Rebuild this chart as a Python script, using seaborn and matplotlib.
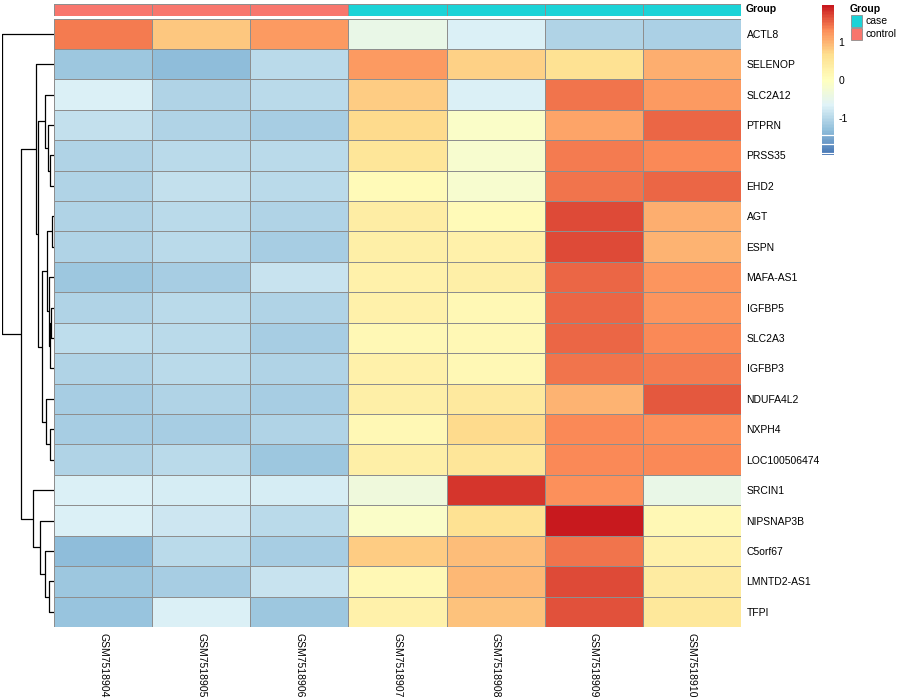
import matplotlib
matplotlib.use('Agg')
import matplotlib.pyplot as plt
import numpy as np
import pandas as pd
import seaborn as sns
from matplotlib.colors import LinearSegmentedColormap, ListedColormap
from matplotlib.patches import Rectangle

# Data (row-scaled expression)
genes = ['ACTL8', 'SELENOP', 'SLC2A12', 'PTPRN', 'PRSS35', 'EHD2', 'AGT', 'ESPN',
         'MAFA-AS1', 'IGFBP5', 'SLC2A3', 'IGFBP3', 'NDUFA4L2', 'NXPH4',
         'LOC100506474', 'SRCIN1', 'NIPSNAP3B', 'C5orf67', 'LMNTD2-AS1', 'TFPI']
samples = ['GSM7518904', 'GSM7518905', 'GSM7518906', 'GSM7518907',
           'GSM7518908', 'GSM7518909', 'GSM7518910']
groups = ['control', 'control', 'control', 'case', 'case', 'case', 'case']

values = [
    [1.42, 0.87, 1.20, -0.45, -0.72, -1.06, -1.10],
    [-1.21, -1.35, -1.00, 1.20, 0.76, 0.60, 1.07],
    [-0.72, -1.06, -0.97, 0.83, -0.72, 1.46, 1.20],
    [-0.91, -1.06, -1.16, 0.70, -0.11, 1.15, 1.53],
    [-1.06, -1.00, -0.97, 0.52, -0.20, 1.40, 1.35],
    [-1.06, -0.91, -0.97, 0.10, -0.20, 1.46, 1.52],
    [-1.06, -1.00, -1.06, 0.37, 0.10, 1.71, 1.04],
    [-1.06, -1.00, -1.16, 0.33, 0.28, 1.68, 1.02],
    [-1.21, -1.12, -0.87, 0.30, 0.33, 1.52, 1.27],
    [-1.06, -1.00, -1.06, 0.30, 0.12, 1.54, 1.25],
    [-0.94, -1.00, -1.13, 0.12, 0.12, 1.55, 1.35],
    [-1.06, -1.00, -1.06, 0.30, 0.12, 1.46, 1.40],
    [-1.12, -1.06, -1.12, 0.33, 0.47, 1.02, 1.61],
    [-1.12, -1.16, -1.06, 0.12, 0.70, 1.35, 1.30],
    [-1.06, -1.00, -1.24, 0.33, 0.52, 1.35, 1.35],
    [-0.71, -0.73, -0.73, -0.34, 1.81, 1.28, -0.47],
    [-0.72, -0.83, -1.00, -0.11, 0.60, 2.00, 0.12],
    [-1.35, -0.97, -1.12, 0.83, 0.93, 1.44, 0.30],
    [-1.21, -1.12, -0.87, 0.12, 0.97, 1.70, 0.40],
    [-1.28, -0.72, -1.24, 0.30, 0.89, 1.66, 0.48],
]

# Row dendrogram merges (leaf ids = row order, new clusters numbered from 20)
merge_left = [6, 9, 21, 8, 20, 4, 3, 2, 13, 12, 24, 27, 1, 18, 17, 16, 15, 32, 0]
merge_right = [7, 10, 11, 22, 23, 5, 25, 26, 14, 28, 29, 30, 31, 19, 33, 34, 35, 36, 37]
merge_height = [0.03, 0.05, 0.07, 0.09, 0.13, 0.07, 0.11, 0.18, 0.08, 0.15,
                0.23, 0.30, 0.35, 0.09, 0.17, 0.27, 0.40, 0.63, 1.00]

df = pd.DataFrame(values, index=genes, columns=samples)
group_codes = pd.DataFrame([[0 if g == 'control' else 1 for g in groups]],
                           index=['Group'], columns=samples)

pal = ['#4575B4', '#91BFDB', '#E0F3F8', '#FFFFBF', '#FEE090', '#FC8D59', '#C8191E']
cmap = LinearSegmentedColormap.from_list('rdylbu', pal, N=100)
group_colors = {'control': '#F8766D', 'case': '#1BD3D7'}
grid_col = '#8E8E8E'

plt.rcParams['font.family'] = ['Liberation Sans', 'DejaVu Sans']
plt.rcParams['axes.unicode_minus'] = False
W, H = 900, 700
fig = plt.figure(figsize=(9, 7), dpi=100)


def rect(x0, y0, x1, y1):
    return [x0 / W, 1 - y1 / H, (x1 - x0) / W, (y1 - y0) / H]


ax = fig.add_axes(rect(54, 18.5, 741, 627))
ax_ann = fig.add_axes(rect(54, 3.5, 741, 15.5))
ax_den = fig.add_axes(rect(2, 18.5, 54, 627))
cax = fig.add_axes(rect(822, 5, 834, 155))

# main heatmap
sns.heatmap(df, ax=ax, cmap=cmap, vmin=-2, vmax=2, linewidths=0.7,
            linecolor=grid_col, cbar_ax=cax, xticklabels=True, yticklabels=True)
ax.yaxis.tick_right()
ax.set_yticklabels(genes, rotation=0, fontsize=7.5)
ax.set_xticklabels(samples, rotation=270, fontsize=7.5, va='top')
ax.tick_params(length=0, pad=4)
ax.set_xlabel('')
ax.set_ylabel('')

# colorbar
cbar = ax.collections[0].colorbar
cbar.set_ticks([-1, 0, 1])
cbar.ax.tick_params(length=0, labelsize=7.5, pad=3)
cbar.outline.set_visible(False)
for v in [-1.47, -1.71, -1.95]:
    cax.axhline(v, color='white', lw=0.9)

# annotation bar
sns.heatmap(group_codes, ax=ax_ann, cmap=ListedColormap([group_colors['control'], group_colors['case']]),
            vmin=0, vmax=1, linewidths=0.7, linecolor=grid_col, cbar=False,
            xticklabels=False, yticklabels=False)
for j in range(1, len(samples)):
    ax_ann.axvline(j, color=grid_col, lw=0.7)
ax_ann.text(1.007, 0.5, 'Group', transform=ax_ann.transAxes, ha='left', va='center',
            fontsize=7.5, fontweight='bold')

# row dendrogram
n = len(genes)
ypos = {i: i + 0.5 for i in range(n)}
hpos = {i: 0.0 for i in range(n)}
for k, (a, b, h) in enumerate(zip(merge_left, merge_right, merge_height)):
    node = n + k
    ax_den.plot([hpos[a], h, h, hpos[b]], [ypos[a], ypos[a], ypos[b], ypos[b]],
                color='black', lw=0.9, solid_capstyle='butt')
    ypos[node] = (ypos[a] + ypos[b]) / 2
    hpos[node] = h
ax_den.set_xlim(max(merge_height), 0)
ax_den.set_ylim(n, 0)
ax_den.axis('off')

# group legend
fig.text(850 / W, 1 - 9 / H, 'Group', fontsize=7.5, fontweight='bold', va='center', ha='left')
for i, g in enumerate(['case', 'control']):
    y0 = 15 + i * 13
    fig.patches.append(Rectangle((851 / W, 1 - (y0 + 12) / H), 11 / W, 12 / H,
                                 transform=fig.transFigure, facecolor=group_colors[g],
                                 edgecolor=grid_col, lw=0.6))
    fig.text(866 / W, 1 - (y0 + 6) / H, g, fontsize=7.5, va='center', ha='left')

fig.savefig('out.png', dpi=100)
